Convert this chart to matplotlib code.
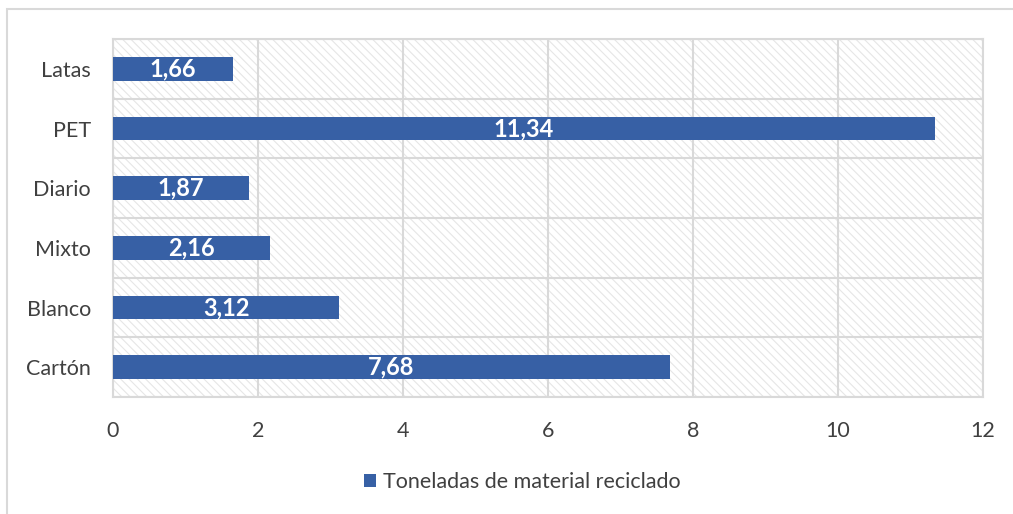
import matplotlib.pyplot as plt
from matplotlib.patches import Rectangle

# --- Dados ---
categorias = ['Cartón', 'Blanco', 'Mixto', 'Diario', 'PET', 'Latas']
toneladas = [7.68, 3.12, 2.16, 1.87, 11.34, 1.66]
xTicks = [0, 2, 4, 6, 8, 10, 12]
nomeSerie = 'Toneladas de material reciclado'

corBarra = '#3760A5'
corGrade = '#D9D9D9'
corTexto = '#404040'

plt.rcParams['font.family'] = ['Lato', 'DejaVu Sans']
plt.rcParams['hatch.linewidth'] = 0.8

fig = plt.figure(figsize=(10.13, 5.14), dpi=100)
ax = fig.add_axes([113 / 1013, 1 - 397 / 514, 870 / 1013, 358 / 514])

# moldura do gráfico
fig.add_artist(Rectangle((7 / 1013, -0.1), 1.2, (514 - 9) / 514 + 0.1,
                         transform=fig.transFigure, fill=False,
                         edgecolor=corGrade, linewidth=1.5))

# fundo hachurado da área de plotagem
ax.patch.set_visible(False)
ax.add_patch(Rectangle((0, 0), 1, 1, transform=ax.transAxes, facecolor='white',
                       edgecolor='#E6E6E6', hatch='\\\\\\\\', linewidth=0, zorder=0))

posicoes = range(len(categorias))
barras = ax.barh(posicoes, toneladas, height=0.4, color=corBarra, zorder=3)

for pos, valor in zip(posicoes, toneladas):
    ax.text(valor / 2, pos, f'{valor:.2f}'.replace('.', ','), ha='center', va='center',
            color='white', fontsize=17, fontweight='bold', zorder=4)

ax.set_xlim(0, 12)
ax.set_ylim(-0.5, len(categorias) - 0.5)
ax.set_xticks(xTicks)
ax.set_xticklabels([str(t) for t in xTicks])
ax.set_yticks(list(posicoes))
ax.set_yticklabels(categorias)
ax.set_yticks([i - 0.5 for i in range(len(categorias) + 1)], minor=True)

ax.tick_params(axis='both', which='both', length=0, labelsize=15.5, colors=corTexto)
ax.tick_params(axis='x', pad=17)
ax.tick_params(axis='y', pad=16)

ax.grid(axis='x', which='major', color=corGrade, linewidth=1.5, zorder=1)
ax.grid(axis='y', which='minor', color=corGrade, linewidth=1.5, zorder=1)
ax.set_axisbelow(True)
for spine in ax.spines.values():
    spine.set_color(corGrade)
    spine.set_linewidth(1.5)

leg = fig.legend([barras], [nomeSerie], loc='center', bbox_to_anchor=(522 / 1013, 1 - 482 / 514),
                 frameon=False, fontsize=15.5, handlelength=0.6, handleheight=0.6,
                 handletextpad=0.3)
for t in leg.get_texts():
    t.set_color(corTexto)

fig.savefig('out.png', dpi=100)
